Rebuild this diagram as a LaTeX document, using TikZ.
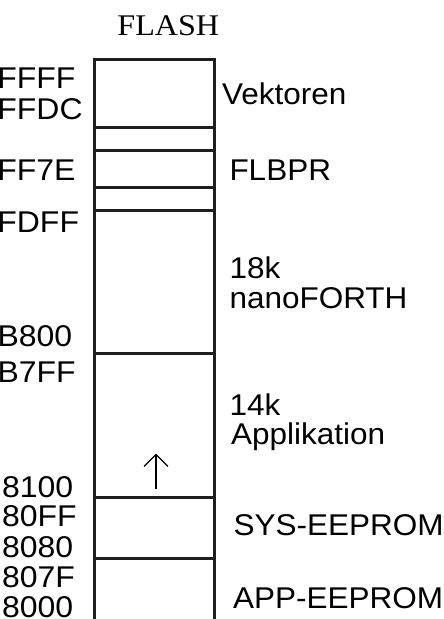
\documentclass[tikz,border=0pt]{standalone}
\usepackage{fontspec}
\setmainfont[FakeStretch=1.05]{Liberation Sans}
\newfontfamily\addrfont[FakeStretch=1.065]{Liberation Sans}
\newfontfamily\titlefont[FakeStretch=1.07]{Liberation Serif}
\usetikzlibrary{arrows.meta}
\tikzset{
  lbl/.style={anchor=base west, inner sep=0pt, outer sep=0pt, font=\fontsize{30}{30}\selectfont},
  addr/.style={lbl, font=\addrfont\fontsize{30}{30}\selectfont},
  ttl/.style={anchor=base, inner sep=0pt, outer sep=0pt, font=\titlefont\fontsize{30}{30}\selectfont},
  wall/.style={line width=3pt, draw=black!88},
  upar/.style={line width=1.3pt, -{Straight Barb[length=12pt,width=24pt,line width=1.3pt]}}
}
\begin{document}
\begin{tikzpicture}[x=1pt,y=-1pt]
\useasboundingbox (0,0) rectangle (444,619);
% title
\node[ttl] (title) at (168.3,35) {FLASH};
% memory column
\coordinate (tl) at (94.5,59.5);
\coordinate (tr) at (214.5,59.5);
\coordinate (bl) at (94.5,619);
\coordinate (br) at (214.5,619);
\draw[wall] (bl) -- (tl) -- (tr) -- (br);
\foreach \y/\n in {127.5/a,150.5/b,187/c,210/d,353.5/e,497/f,558/g}{
  \coordinate (\n l) at (94.5,\y);
  \coordinate (\n r) at (214.5,\y);
  \draw[wall] (\n l) -- (\n r);
}
% arrow
\coordinate (arrA) at (156,489.3);
\coordinate (arrB) at (156,453.5);
\draw[upar] (arrA) -- (arrB);
% left addresses
\node[addr] (aFFFF) at (-2.6,88.3) {FFFF};
\node[addr] (aFFDC) at (-2.6,119.3) {FFDC};
\node[addr] (aFF7E) at (-2.6,180) {FF7E};
\node[addr] (aFDFF) at (-2.6,232.7) {FDFF};
\node[addr] (aB800) at (-2.4,346.7) {B800};
\node[addr] (aB7FF) at (-2.4,382.7) {B7FF};
\node[addr] (a8100) at (2,497) {8100};
\node[addr] (a80FF) at (2,526) {80FF};
\node[addr] (a8080) at (2,557) {8080};
\node[addr] (a807F) at (2,587) {807F};
\node[addr] (a8000) at (2,617) {8000};
% right labels
\node[lbl] (vek) at (222,104) {Vektoren};
\node[lbl] (flb) at (229.5,180) {FLBPR};
\node[lbl] (nf1) at (229.5,278.3) {18k};
\node[lbl] (nf2) at (229.5,308.7) {nanoFORTH};
\node[lbl] (ap1) at (229.5,415) {14k};
\node[lbl] (ap2) at (231,444.3) {Applikation};
\node[lbl] (sys) at (233.5,535) {SYS-EEPROM};
\node[lbl] (app) at (233,608.3) {APP-EEPROM};
\end{tikzpicture}
\end{document}
